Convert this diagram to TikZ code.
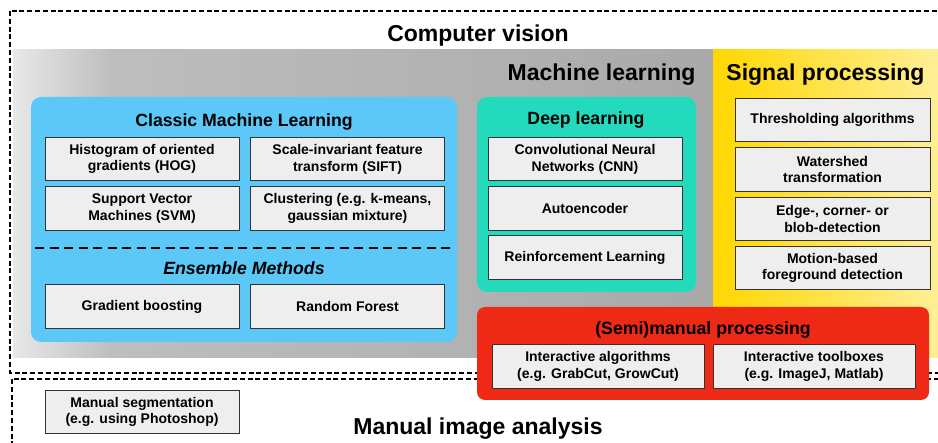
\documentclass[tikz,border=0pt]{standalone}
\usepackage{fontspec}
\setmainfont{Liberation Sans}
\usepackage{xcolor}
\definecolor{mlA}{HTML}{E8E8E8}
\definecolor{mlB}{HTML}{BEBEBE}
\definecolor{mlC}{HTML}{A9A9A9}
\definecolor{spgold}{HTML}{FFD700}
\definecolor{splight}{HTML}{FFEF95}
\definecolor{cmlblue}{HTML}{5BC8F7}
\definecolor{dlteal}{HTML}{23DBBC}
\definecolor{semired}{HTML}{EE2A16}
\definecolor{boxgray}{HTML}{EEEEEE}
\pgfdeclarehorizontalshading{mlfade}{100bp}{color(0bp)=(mlA); color(25bp)=(mlA); color(32bp)=(mlB); color(75bp)=(mlC); color(100bp)=(mlC)}
\tikzset{
  method/.style={draw=black!80, line width=1pt, fill=boxgray, align=center,
    minimum width=194pt, minimum height=43.5pt, inner sep=2pt,
    font=\fontsize{14}{16.8}\selectfont\bfseries},
  maintitle/.style={yshift=-2.5pt, font=\fontsize{23}{27}\selectfont\bfseries},
  subtitle/.style={yshift=-1.5pt, font=\fontsize{17.7}{21}\selectfont\bfseries},
  region/.style={line width=2.6pt, dash pattern=on 5pt off 2.8pt},
}

\begin{document}
\begin{tikzpicture}[x=1pt, y=-1pt]
\clip (0,0) rectangle (938,443);
% background areas
\shade[shading=mlfade] (13,50) rectangle (713,358);
\shade[left color=spgold, right color=splight] (713,50) rectangle (938,358);
\draw[region] (10,11) rectangle (950,373);
\draw[region] (12,379) rectangle (950,470);
\fill[cmlblue, rounded corners=10pt] (31,97) rectangle (457,342);
\fill[dlteal, rounded corners=10pt] (477,97) rectangle (696,292);
\fill[semired, rounded corners=8pt] (477,307) rectangle (929,400);

% titles
\node[maintitle] (cv) at (478,33) {Computer vision};
\node[maintitle, anchor=east] (ml) at (699,72) {Machine learning};
\node[maintitle] (sp) at (825.5,72) {Signal processing};
\node[maintitle] (mia) at (478,426) {Manual image analysis};
\node[subtitle] (cml) at (244,120) {Classic Machine Learning};
\node[subtitle] (dl) at (586,118) {Deep learning};
\node[subtitle] (semi) at (703,328) {(Semi)manual processing};
\node[subtitle, yshift=1.5pt] (ens) at (244,268) {\itshape Ensemble Methods};
\draw[line width=2pt, dash pattern=on 9pt off 5.5pt] (35,248) -- (452,248);

% classic machine learning
\node[method] (hog) at (142,159) {Histogram of oriented\\gradients (HOG)};
\node[method] (sift) at (347.5,159) {Scale-invariant feature\\transform (SIFT)};
\node[method] (svm) at (142,208.5) {Support Vector\\Machines (SVM)};
\node[method] (clust) at (347.5,208.5) {Clustering (e.g. k-means,\\gaussian mixture)};
\node[method] (gboost) at (142,306.5) {Gradient boosting};
\node[method] (rforest) at (347.5,306.5) {Random Forest};

% deep learning
\node[method] (cnn) at (585,159) {Convolutional Neural\\Networks (CNN)};
\node[method] (autoenc) at (585,208.5) {Autoencoder};
\node[method] (reinf) at (585,257.5) {Reinforcement Learning};

% signal processing
\node[method, minimum width=195pt] (thresh) at (832.5,120) {Thresholding algorithms};
\node[method, minimum width=195pt] (water) at (832.5,169.5) {Watershed\\transformation};
\node[method, minimum width=195pt] (edge) at (832.5,219) {Edge-, corner- or\\blob-detection};
\node[method, minimum width=195pt] (motion) at (832.5,268) {Motion-based\\foreground detection};

% (semi)manual
\node[method, minimum width=212pt] (interalg) at (598,366.5) {Interactive algorithms\\(e.g. GrabCut, GrowCut)};
\node[method, minimum width=202pt] (intertool) at (814,366.5) {Interactive toolboxes\\(e.g. ImageJ, Matlab)};
\node[method] (manseg) at (142,412) {Manual segmentation\\(e.g. using Photoshop)};
\end{tikzpicture}
\end{document}
